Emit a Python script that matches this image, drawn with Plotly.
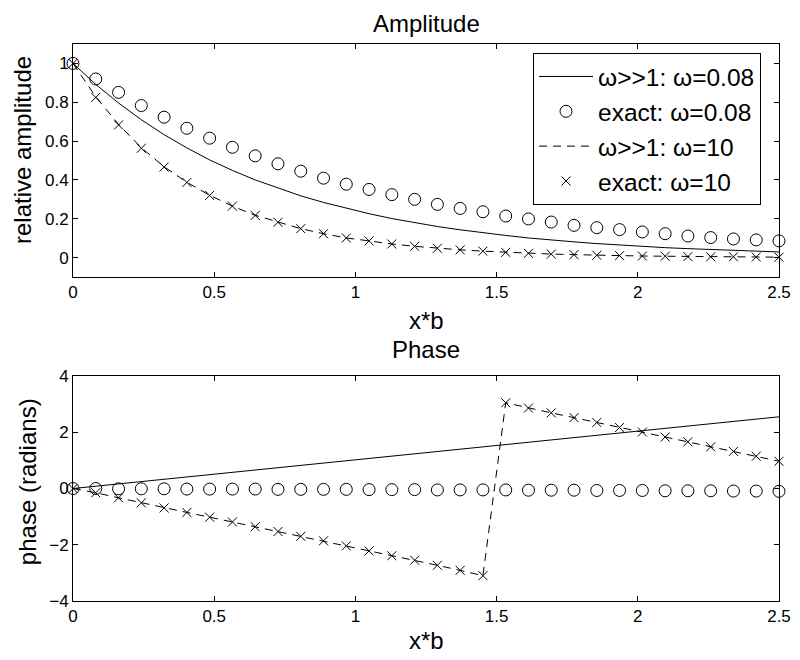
import plotly.graph_objects as go
from plotly.subplots import make_subplots

# 32 sample points along x*b (0 .. 2.5)
xb = [0.0, 0.0806, 0.1613, 0.2419, 0.3226, 0.4032, 0.4839, 0.5645,
      0.6452, 0.7258, 0.8065, 0.8871, 0.9677, 1.0484, 1.129, 1.2097,
      1.2903, 1.371, 1.4516, 1.5323, 1.6129, 1.6935, 1.7742, 1.8548,
      1.9355, 2.0161, 2.0968, 2.1774, 2.2581, 2.3387, 2.4194, 2.5]

# amplitude
amp_approx_low = [1.0, 0.892, 0.796, 0.71, 0.633, 0.565, 0.503, 0.449,
                  0.40, 0.357, 0.318, 0.284, 0.253, 0.226, 0.201, 0.18,
                  0.16, 0.143, 0.127, 0.114, 0.101, 0.09, 0.081, 0.072,
                  0.064, 0.057, 0.051, 0.046, 0.041, 0.036, 0.032, 0.029]
amp_exact_low = [1.0, 0.92, 0.851, 0.783, 0.723, 0.666, 0.615, 0.568,
                 0.524, 0.483, 0.445, 0.409, 0.378, 0.351, 0.324, 0.30,
                 0.274, 0.253, 0.236, 0.214, 0.199, 0.183, 0.166, 0.154,
                 0.144, 0.132, 0.123, 0.111, 0.103, 0.096, 0.091, 0.086]
amp_approx_high = [1.0, 0.828, 0.686, 0.566, 0.468, 0.388, 0.321, 0.265,
                   0.218, 0.182, 0.149, 0.123, 0.101, 0.086, 0.07, 0.058,
                   0.048, 0.04, 0.033, 0.027, 0.022, 0.018, 0.015, 0.012,
                   0.01, 0.008, 0.007, 0.005, 0.004, 0.004, 0.003, 0.002]
amp_exact_high = [1.0, 0.825, 0.683, 0.563, 0.466, 0.387, 0.32, 0.265,
                  0.217, 0.182, 0.149, 0.123, 0.101, 0.086, 0.07, 0.058,
                  0.048, 0.04, 0.033, 0.027, 0.022, 0.018, 0.015, 0.012,
                  0.01, 0.008, 0.007, 0.005, 0.004, 0.004, 0.003, 0.002]

# phase
ph_approx_low = [0.0, 0.082, 0.164, 0.247, 0.329, 0.411, 0.494, 0.576,
                 0.658, 0.74, 0.823, 0.905, 0.987, 1.07, 1.15, 1.23,
                 1.32, 1.40, 1.48, 1.56, 1.65, 1.73, 1.81, 1.89,
                 1.97, 2.06, 2.14, 2.22, 2.30, 2.39, 2.47, 2.55]
ph_exact_low = [0.0, 0.0, -0.01, -0.01, -0.01, -0.02, -0.02, -0.02,
                -0.02, -0.03, -0.03, -0.03, -0.03, -0.04, -0.04, -0.04,
                -0.05, -0.05, -0.05, -0.05, -0.06, -0.06, -0.06, -0.07,
                -0.07, -0.07, -0.08, -0.08, -0.08, -0.09, -0.09, -0.10]
ph_approx_high = [0.0, -0.15, -0.33, -0.51, -0.69, -0.85, -1.02, -1.19,
                  -1.36, -1.53, -1.70, -1.86, -2.04, -2.22, -2.39, -2.55,
                  -2.73, -2.91, -3.10, 3.05, 2.86, 2.69, 2.52, 2.35,
                  2.17, 2.01, 1.83, 1.66, 1.48, 1.32, 1.15, 0.97]
ph_exact_high = list(ph_approx_high)

FONT = "Liberation Sans, Arial, sans-serif"

fig = make_subplots(rows=2, cols=1)


def add_set(row, approx_low, exact_low, approx_high, exact_high, show):
    fig.add_trace(go.Scatter(x=xb, y=approx_low, mode="lines", name="ω>>1: ω=0.08",
                             line=dict(color="black", width=1), showlegend=show),
                  row=row, col=1)
    fig.add_trace(go.Scatter(x=xb, y=exact_low, mode="markers", name="exact: ω=0.08",
                             marker=dict(symbol="circle-open", size=12, color="black",
                                         line=dict(width=1, color="black")),
                             showlegend=show, cliponaxis=False),
                  row=row, col=1)
    fig.add_trace(go.Scatter(x=xb, y=approx_high, mode="lines", name="ω>>1: ω=10",
                             line=dict(color="black", width=1, dash="8px,6px"),
                             showlegend=show),
                  row=row, col=1)
    fig.add_trace(go.Scatter(x=xb, y=exact_high, mode="markers", name="exact: ω=10",
                             marker=dict(symbol="x-thin-open", size=9, color="black",
                                         line=dict(width=1, color="black")),
                             showlegend=show, cliponaxis=False),
                  row=row, col=1)


add_set(1, amp_approx_low, amp_exact_low, amp_approx_high, amp_exact_high, True)
add_set(2, ph_approx_low, ph_exact_low, ph_approx_high, ph_exact_high, False)

axis_style = dict(showline=True, linecolor="black", linewidth=1, mirror="ticks",
                  ticks="inside", ticklen=5, tickcolor="black", showgrid=False,
                  zeroline=False, automargin=False,
                  tickfont=dict(family=FONT, size=17, color="black"))

fig.update_xaxes(range=[0, 2.5], tickvals=[0, 0.5, 1, 1.5, 2, 2.5],
                 ticktext=["0", "0.5", "1", "1.5", "2", "2.5"], **axis_style)
fig.update_yaxes(**axis_style)
fig.update_yaxes(range=[-0.1, 1.1], tickvals=[0, 0.2, 0.4, 0.6, 0.8, 1],
                 ticktext=["0", "0.2", "0.4", "0.6", "0.8", "1"], row=1, col=1)
fig.update_yaxes(range=[-4, 4], tickvals=[-4, -2, 0, 2, 4],
                 ticktext=["\u22124", "\u22122", "0", "2", "4"], row=2, col=1)
fig.update_layout(yaxis=dict(domain=[0.5817, 1]), yaxis2=dict(domain=[0, 0.4039]))

big = dict(family=FONT, size=24, color="black")
notes = [
    dict(text="Amplitude", x=0.5, y=1.0646, yanchor="top"),
    dict(text="x*b", x=0.5, y=0.5027),
    dict(text="Phase", x=0.5, y=0.4524),
    dict(text="x*b", x=0.5, y=-0.0718),
    dict(text="relative amplitude", x=-0.0708, y=0.8097, textangle=-90),
    dict(text="phase (radians)", x=-0.065, y=0.2136, textangle=-90),
]
fig.update_layout(annotations=[dict(dict(xref="paper", yref="paper", showarrow=False,
                                         xanchor="center", yanchor="middle", font=big), **n)
                               for n in notes])

# page body adds an 8px offset, so the figure is a bit smaller than the window
fig.update_layout(
    width=792, height=652,
    margin=dict(l=65, r=21, t=36, b=59),
    paper_bgcolor="white", plot_bgcolor="white",
    font=dict(family=FONT, color="black"),
    legend=dict(x=0.6516, y=0.9838, xanchor="left", yanchor="top",
                bordercolor="black", borderwidth=1, bgcolor="white",
                font=dict(family=FONT, size=24.5, color="black"),
                tracegroupgap=0, itemwidth=54),
)

fig.write_html("out.html")
